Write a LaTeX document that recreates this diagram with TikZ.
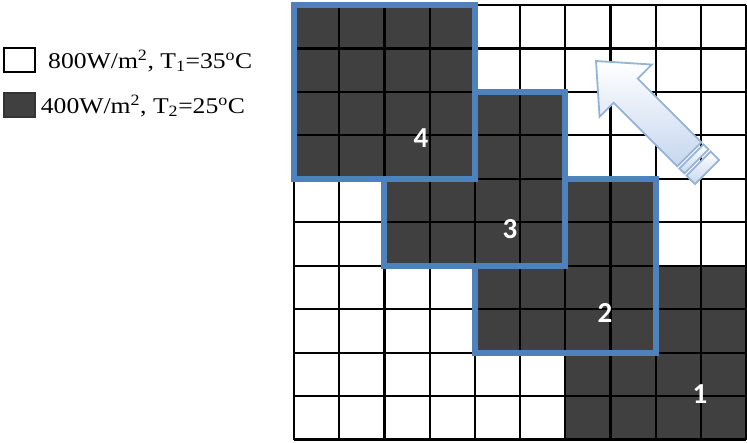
\documentclass[tikz,border=0pt]{standalone}
\usepackage{fontspec}
\setmainfont{Liberation Serif}
\newfontfamily\lblfont{Carlito}
\definecolor{darkcell}{RGB}{64,64,64}
\definecolor{blueline}{RGB}{79,129,189}
\definecolor{arrowedge}{RGB}{149,179,215}
\definecolor{arrowfill}{RGB}{198,215,238}
\tikzset{
  cellfill/.style={fill=darkcell},
  gridline/.style={draw=black, line width=2.2pt},
  region/.style={draw=blueline, line width=6pt, line join=miter},
  numlabel/.style={text=white, font=\lblfont\bfseries\fontsize{29}{29}\selectfont, inner sep=0pt},
  legendtext/.style={anchor=base west, inner sep=0pt, font=\fontsize{22.5}{22.5}\selectfont},
  arrowpart/.style={draw=arrowedge, line width=1.8pt, line join=miter, top color=white, bottom color=arrowfill},
  arrowshadow/.style={fill=black!45, opacity=0.6}
}
\begin{document}
\begin{tikzpicture}[x=1pt, y=-1pt]
\useasboundingbox (0,0) rectangle (747,442);
\def\cw{45.2}
\def\ch{43.45}
% dark cells: (col,row)
\foreach \c/\r in {0/0,1/0,2/0,3/0,0/1,1/1,2/1,3/1,0/2,1/2,2/2,3/2,0/3,1/3,2/3,3/3,
  4/2,5/2,4/3,5/3,2/4,3/4,4/4,5/4,2/5,3/5,4/5,5/5,
  6/4,7/4,6/5,7/5,4/6,5/6,6/6,7/6,4/7,5/7,6/7,7/7,
  8/6,9/6,8/7,9/7,6/8,7/8,8/8,9/8,6/9,7/9,8/9,9/9}
  \fill[cellfill] ({294+\c*\cw},{5+\r*\ch}) rectangle ({294+(\c+1)*\cw},{5+(\r+1)*\ch});
% grid
\foreach \i in {0,...,10} {
  \draw[gridline] ({294+\i*\cw},5) -- ({294+\i*\cw},{5+10*\ch});
  \draw[gridline] (294,{5+\i*\ch}) -- ({294+10*\cw},{5+\i*\ch});
}
% region outlines
\draw[region] (294,5) rectangle ({294+4*\cw},{5+4*\ch});
\draw[region] ({294+2*\cw},{5+4*\ch}) -- ({294+4*\cw},{5+4*\ch}) -- ({294+4*\cw},{5+2*\ch})
  -- ({294+6*\cw},{5+2*\ch}) -- ({294+6*\cw},{5+6*\ch}) -- ({294+2*\cw},{5+6*\ch}) -- cycle;
\draw[region] ({294+4*\cw},{5+6*\ch}) -- ({294+6*\cw},{5+6*\ch}) -- ({294+6*\cw},{5+4*\ch})
  -- ({294+8*\cw},{5+4*\ch}) -- ({294+8*\cw},{5+8*\ch}) -- ({294+4*\cw},{5+8*\ch}) -- cycle;
% labels
\node[numlabel] (n4) at (421,138) {4};
\node[numlabel] (n3) at (510,229) {3};
\node[numlabel] (n2) at (605,313) {2};
\node[numlabel] (n1) at (700,394) {1};
% arrow
\coordinate (tip) at (596,61);
\begin{scope}[shift={(tip)}, x={(0.7071pt,-0.7071pt)}, y={(0.7071pt,0.7071pt)}]
  \coordinate (a0) at (0,0);
  \coordinate (a1) at (42,37);
  \coordinate (a2) at (42,17);
  \coordinate (a3) at (132,17);
  \coordinate (a4) at (132,-17);
  \coordinate (a5) at (42,-17);
  \coordinate (a6) at (42,-37);
  \coordinate (s1a) at (135,17);
  \coordinate (s1b) at (142,17);
  \coordinate (s1c) at (142,-17);
  \coordinate (s1d) at (135,-17);
  \coordinate (s2a) at (145,17);
  \coordinate (s2b) at (157,17);
  \coordinate (s2c) at (157,-17);
  \coordinate (s2d) at (145,-17);
\end{scope}
\begin{scope}[shift={(4,4)}]
  \fill[arrowshadow] (a0) -- (a1) -- (a2) -- (a3) -- (a4) -- (a5) -- (a6) -- cycle;
  \fill[arrowshadow] (s1a) -- (s1b) -- (s1c) -- (s1d) -- cycle;
  \fill[arrowshadow] (s2a) -- (s2b) -- (s2c) -- (s2d) -- cycle;
\end{scope}
\path[arrowpart] (a0) -- (a1) -- (a2) -- (a3) -- (a4) -- (a5) -- (a6) -- cycle;
\path[arrowpart] (s1a) -- (s1b) -- (s1c) -- (s1d) -- cycle;
\path[arrowpart] (s2a) -- (s2b) -- (s2c) -- (s2d) -- cycle;
% legend
\draw[line width=2pt, fill=white] (4,48) rectangle (35,72);
\draw[line width=2pt, draw=black!80, fill=darkcell] (4,93) rectangle (35,117);
\node[legendtext] (leg1) at (48,68.5) {\scalebox{1.14}[1]{800W/m\textsuperscript{2}, T\textsubscript{1}=35\textsuperscript{o}C}};
\node[legendtext] (leg2) at (40.7,113.5) {\scalebox{1.14}[1]{400W/m\textsuperscript{2}, T\textsubscript{2}=25\textsuperscript{o}C}};
\end{tikzpicture}
\end{document}
